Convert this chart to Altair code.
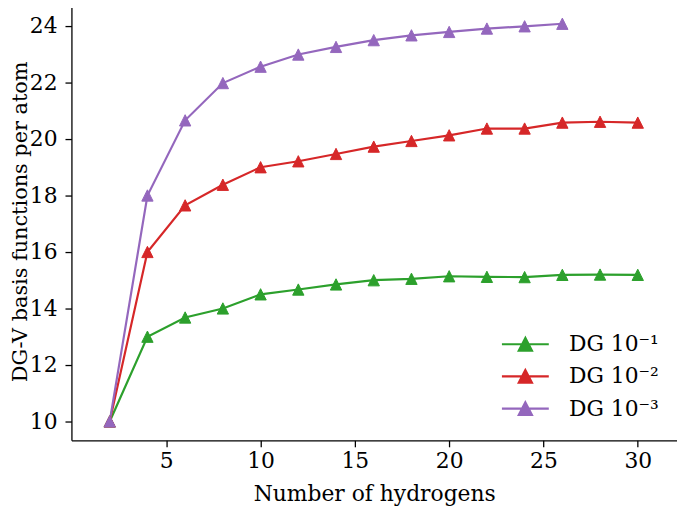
import altair as alt
import pandas as pd

hydrogens = [2, 4, 6, 8, 10, 12, 14, 16, 18, 20, 22, 24, 26, 28, 30]
dg_1 = [10.0, 13.0, 13.68, 14.0, 14.5, 14.67, 14.85, 15.0, 15.05, 15.14, 15.12, 15.11, 15.19, 15.2, 15.19]
dg_2 = [10.0, 16.0, 17.65, 18.38, 19.0, 19.21, 19.47, 19.73, 19.93, 20.13, 20.37, 20.37, 20.58, 20.61, 20.58]
hydrogens_3 = [2, 4, 6, 8, 10, 12, 14, 16, 18, 20, 22, 24, 26]
dg_3 = [10.0, 18.0, 20.66, 21.98, 22.56, 22.99, 23.26, 23.5, 23.67, 23.79, 23.91, 23.99, 24.08]

labels = ["DG 10\u207b\u00b9", "DG 10\u207b\u00b2", "DG 10\u207b\u00b3"]
colors = ["#2ca02c", "#d62728", "#9467bd"]

rows = []
for xs, ys, lab in [(hydrogens, dg_1, labels[0]), (hydrogens, dg_2, labels[1]), (hydrogens_3, dg_3, labels[2])]:
    for x, y in zip(xs, ys):
        rows.append({"n": x, "v": y, "series": lab})
df = pd.DataFrame(rows)

FONT = "DejaVu Serif"
FS = 22
scale = alt.Scale(domain=labels, range=colors)
legend = alt.Legend(
    title=None,
    orient="none",
    legendX=433,
    legendY=330,
    padding=0,
    labelFont=FONT,
    labelFontSize=FS,
    labelColor="black",
    labelOffset=19,
    clipHeight=30,
    rowPadding=2.5,
    symbolType="M-1,0L1,0M0,-0.27L-0.28,0.27L0.28,0.27Z",
    symbolSize=2237,
    symbolStrokeWidth=2.2,
    symbolOpacity=1,
)

x_enc = alt.X(
    "n:Q",
    scale=alt.Scale(domain=[-0.03, 32.08], nice=False, zero=False),
    axis=alt.Axis(values=[5, 10, 15, 20, 25, 30], title="Number of hydrogens",
                  labelPadding=4, titlePadding=12),
)
y_enc = alt.Y(
    "v:Q",
    scale=alt.Scale(domain=[9.33, 24.84], nice=False, zero=False),
    axis=alt.Axis(values=[10, 12, 14, 16, 18, 20, 22, 24], title="DG-V basis functions per atom",
                  labelPadding=8, titlePadding=-1, titleFontSize=21),
)

lines = alt.Chart(df).mark_line(strokeWidth=2.2).encode(
    x=x_enc, y=y_enc,
    stroke=alt.Stroke("series:N", scale=scale, legend=legend),
    order="n:Q",
)
points = alt.Chart(df).mark_point(
    shape="M0,-1L-1,1L1,1Z", filled=True, size=130, strokeWidth=1, opacity=1
).encode(
    x=x_enc, y=y_enc,
    fill=alt.Fill("series:N", scale=scale, legend=legend),
    stroke=alt.Stroke("series:N", scale=scale, legend=legend),
)

chart = alt.layer(lines, points).properties(
    width=611,
    height=442,
    autosize=alt.AutoSizeParams(type="none"),
    padding={"left": 64, "top": -8, "right": 0, "bottom": 64},
).configure_view(stroke=None).configure_axis(
    grid=False,
    domainColor="black",
    domainWidth=1.3,
    tickColor="black",
    tickWidth=1.3,
    tickSize=6.5,
    labelFont=FONT,
    labelFontSize=FS,
    labelColor="black",
    titleFont=FONT,
    titleFontSize=FS,
    titleFontWeight="normal",
    titleColor="black",
)

chart.save("out.html", embed_options={"renderer": "svg", "actions": False})
